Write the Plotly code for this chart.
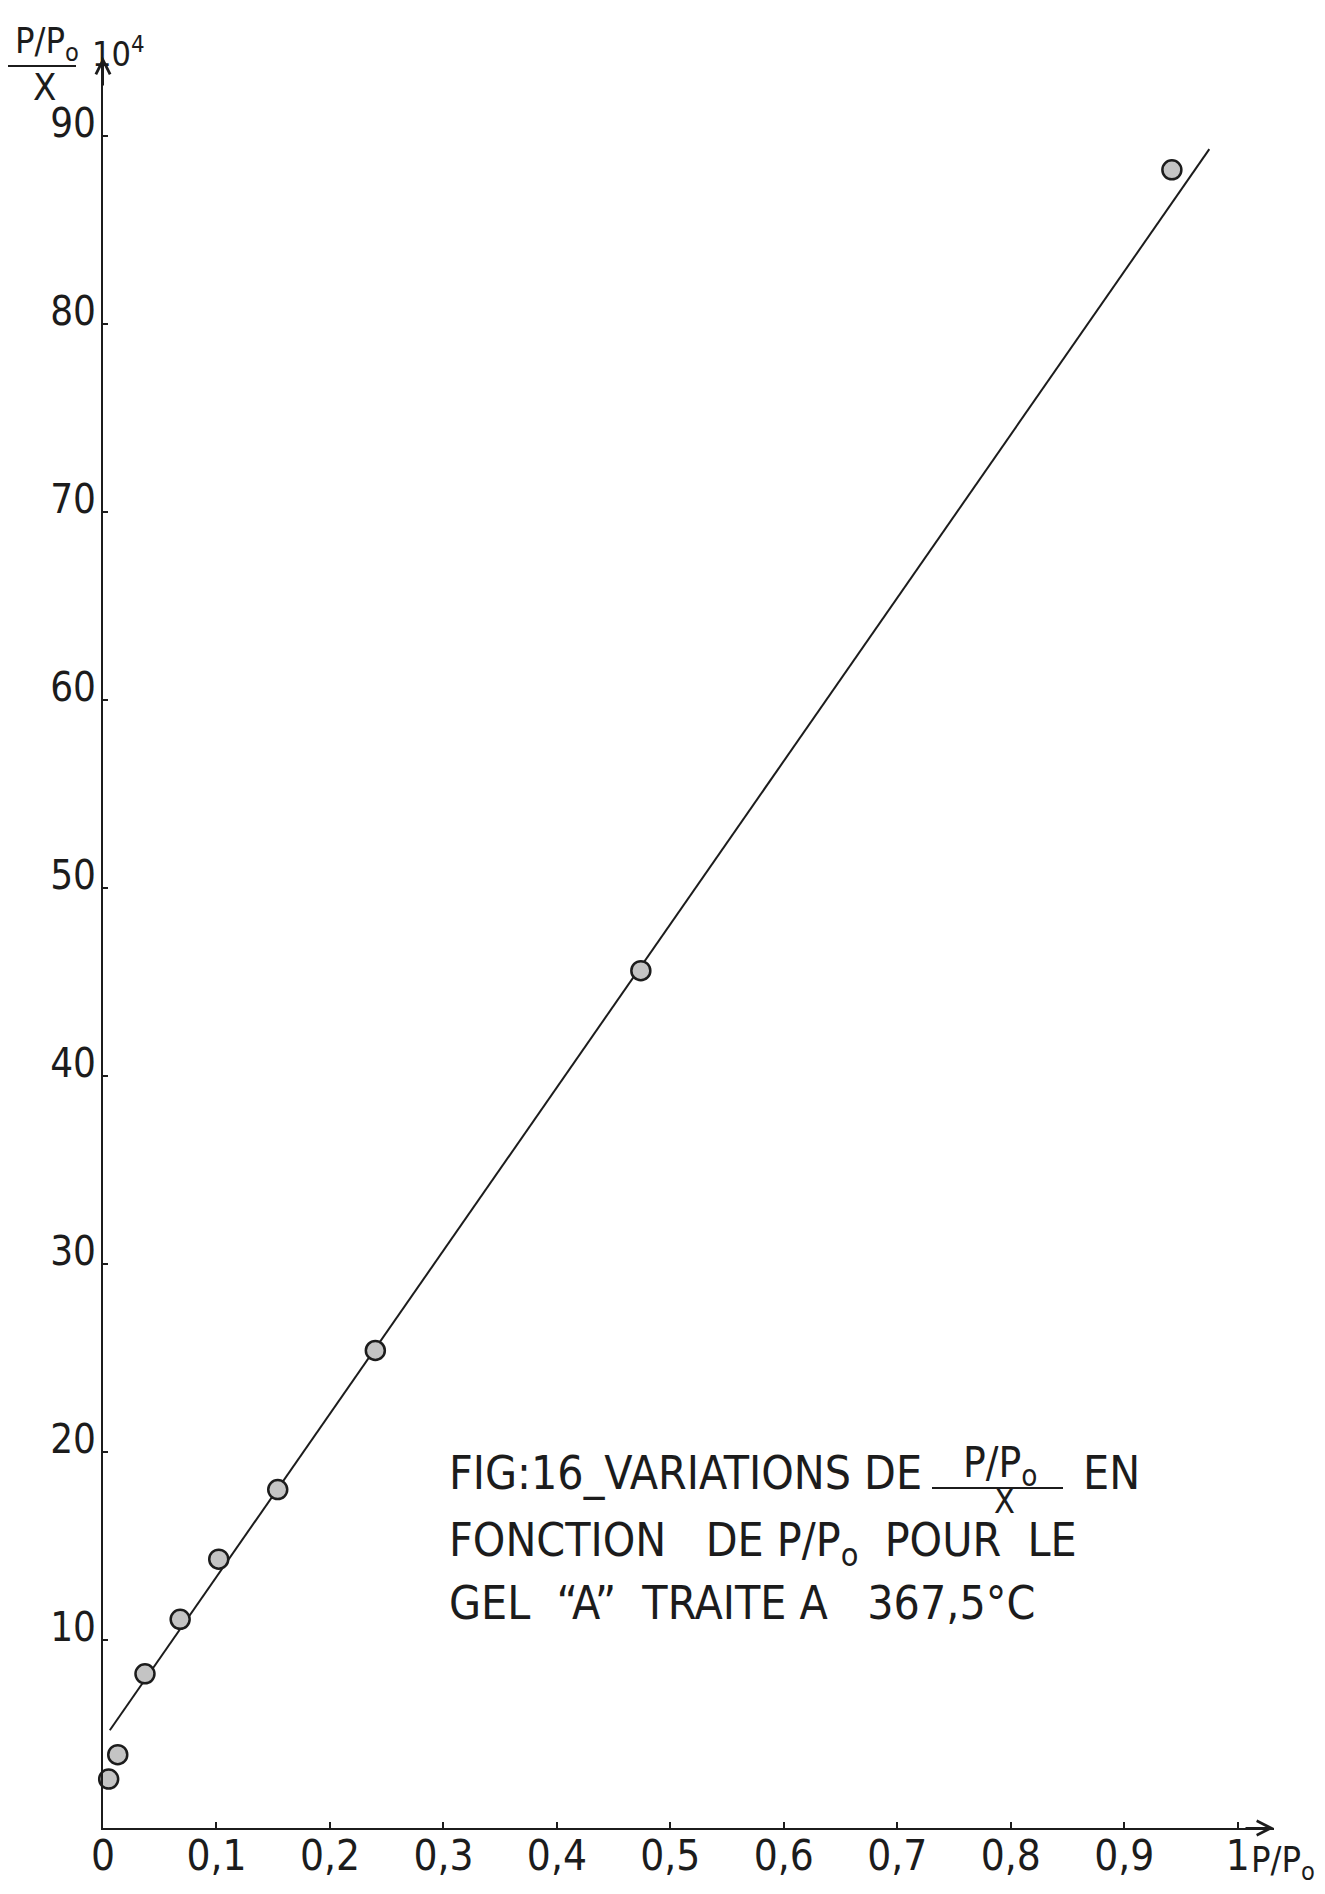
import plotly.graph_objects as go

# ---- data ----
x_pp0 = [0.005, 0.013, 0.037, 0.068, 0.102, 0.154, 0.240, 0.474, 0.942]
y_ratio = [2.6, 3.9, 8.2, 11.1, 14.3, 18.0, 25.4, 45.6, 88.2]
line_x = [0.006, 0.975]
line_y = [5.2, 89.3]
x_tickvals = [0, 0.1, 0.2, 0.3, 0.4, 0.5, 0.6, 0.7, 0.8, 0.9, 1.0]
x_ticktext = ["0", "0,1", "0,2", "0,3", "0,4", "0,5", "0,6", "0,7", "0,8", "0,9", "1"]
y_tickvals = [10, 20, 30, 40, 50, 60, 70, 80, 90]
y_ticktext = ["10", "20", "30", "40", "50", "60", "70", "80", "90"]

# page body has an 8px margin: shrink the figure so it lines up with the window
OFF = 8
W, H = 1325 - OFF, 1894 - OFF
ML, MR, MT, MB = 103 - OFF, 51, 57 - OFF, 66
PW, PH = W - ML - MR, H - MT - MB
NARROW = "Liberation Sans Narrow, DejaVu Sans Condensed, Liberation Sans, sans-serif"
INK = "#1c1c1c"


def px(xp):
    return (xp - OFF - ML) / PW


def py(yp):
    return (H - MB - (yp - OFF)) / PH


fig = go.Figure()
fig.add_trace(go.Scatter(x=line_x, y=line_y, mode="lines",
                         line=dict(color=INK, width=2), showlegend=False))
fig.add_trace(go.Scatter(x=x_pp0, y=y_ratio, mode="markers",
                         marker=dict(size=19, color="#c4c4c4",
                                     line=dict(color=INK, width=2.5)),
                         showlegend=False, cliponaxis=False))

annotations = []
shapes = []


def txt(s, xp, yp, size=38, anchor="left", family=NARROW):
    annotations.append(dict(text=s, x=px(xp), y=py(yp), xref="paper", yref="paper",
                            xanchor=anchor, yanchor="middle", showarrow=False,
                            font=dict(family=family, size=size, color=INK)))


def hline(x0, x1, yp):
    shapes.append(dict(type="line", xref="paper", yref="paper",
                       x0=px(x0), x1=px(x1), y0=py(yp), y1=py(yp),
                       line=dict(color=INK, width=2)))


# axis title (top-left)
txt("P/P<sub>o</sub>", 47, 44, size=36, anchor="center")
hline(5, 76, 66)
txt("X", 44, 87, size=38, anchor="center")
txt("10<sup>4</sup>", 90, 52, size=34)
# x axis label
txt("P/P<sub>o</sub>", 1283, 1862, size=36, anchor="center")

# caption
txt("FIG:16_VARIATIONS DE", 447, 1473, size=46)
txt("P/P<sub>o</sub>", 1000, 1465, size=42, anchor="center")
hline(932, 1063, 1488)
txt("X", 1004, 1501, size=34, anchor="center")
txt("EN", 1081, 1473, size=46)
txt("FONCTION   DE P/P<sub>o</sub>  POUR  LE", 447, 1543, size=46)
txt("GEL  “A”  TRAITE A   367,5°C", 447, 1603, size=46)

# axis arrow heads
annotations.append(dict(x=1.032, y=0, xref="x", yref="y", ax=-30, ay=0,
                        text="", showarrow=True, arrowhead=5, arrowsize=1.4,
                        arrowwidth=2, arrowcolor=INK, standoff=0))
annotations.append(dict(x=0, y=94.2, xref="x", yref="y", ax=0, ay=30,
                        text="", showarrow=True, arrowhead=5, arrowsize=1.4,
                        arrowwidth=2, arrowcolor=INK, standoff=0))

fig.update_layout(
    template="none",
    width=W, height=H, autosize=False,
    margin=dict(l=ML, r=MR, t=MT, b=MB, pad=0),
    paper_bgcolor="white", plot_bgcolor="white",
    annotations=annotations, shapes=shapes,
    xaxis=dict(range=[0, 1.032], tickvals=x_tickvals, ticktext=x_ticktext,
               automargin=False,
               showline=True, linecolor=INK, linewidth=2, showgrid=False,
               zeroline=False, ticks="inside", ticklen=6, tickwidth=2,
               tickcolor=INK, tickfont=dict(family=NARROW, size=42, color=INK),
               ticklabelstandoff=-10),
    yaxis=dict(range=[0, 94.2], tickvals=y_tickvals, ticktext=y_ticktext,
               automargin=False,
               showline=True, linecolor=INK, linewidth=2, showgrid=False,
               zeroline=False, ticks="inside", ticklen=5, tickwidth=2,
               tickcolor=INK, tickfont=dict(family=NARROW, size=40, color=INK),
               ticklabelstandoff=-3, ticklabelshift=-13),
)

fig.write_html("out.html")
